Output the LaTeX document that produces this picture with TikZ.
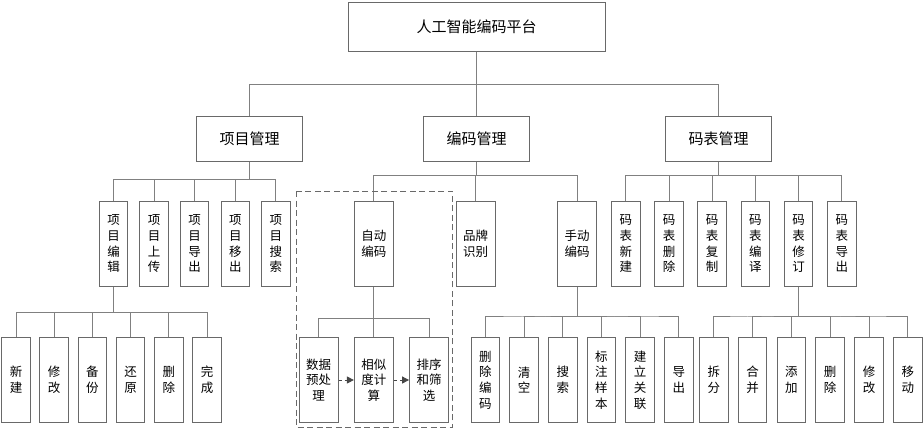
\documentclass[tikz,border=0pt]{standalone}
\usepackage{fontspec}
\setmainfont{Noto Sans CJK SC}
\usetikzlibrary{calc,arrows.meta}
\definecolor{boxgray}{RGB}{105,105,105}
\definecolor{linegray}{RGB}{128,128,128}
\definecolor{tipgray}{RGB}{70,70,70}
\tikzset{
  elbow/.store in=\elbowpos, elbow=.5,
  tall/.style={draw=boxgray, line width=1pt, align=center, inner sep=0pt,
    minimum width=28.5pt, minimum height=84.5pt,
    font=\fontsize{12.5pt}{15.7pt}\selectfont},
  wide/.style={minimum width=39pt},
  rootbox/.style={tall, minimum width=257pt, minimum height=49pt,
    font=\fontsize{15pt}{18pt}\selectfont},
  groupbox/.style={tall, minimum width=106pt, minimum height=45pt,
    font=\fontsize{15pt}{18pt}\selectfont},
  projkids/.style={sibling distance=40.6pt, xshift=-54.8pt, elbow=.45},
  codekids/.style={sibling distance=101.6pt, xshift=-1pt},
  tablekids/.style={sibling distance=43.2pt, xshift=15.3pt},
  editkids/.style={sibling distance=38.2pt, xshift=-2pt, elbow=.51},
  autokids/.style={sibling distance=55.2pt, elbow=.63},
  manualkids/.style={sibling distance=38.66pt, xshift=5pt},
  revisekids/.style={sibling distance=38.8pt, xshift=12.2pt},
  flow/.style={draw=tipgray, line width=.9pt, dash pattern=on 3.5pt off 2.5pt,
    -{Triangle[length=7pt,width=7pt]}},
  autoframe/.style={draw=boxgray, line width=.9pt, dash pattern=on 6pt off 3.5pt}
}
\begin{document}
\begin{tikzpicture}[x=1pt, y=1pt, every node/.style={tall},
  edge from parent/.style={draw=linegray, line width=1pt},
  edge from parent path={(\tikzparentnode.south) |- ($(\tikzparentnode.south)!\elbowpos!(\tikzchildnode.north)$) -| (\tikzchildnode.north)},
  level 1/.style={level distance=112pt, sibling distance=234.5pt, elbow=.52},
  level 2/.style={level distance=105.35pt, elbow=.36},
  level 3/.style={level distance=136.15pt, sibling distance=38.7pt, elbow=.6}]
  \useasboundingbox (0,0) rectangle (923,-429);
  \node[rootbox] (root) at (476.5,-26.5) {人工智能编码平台}
    child[xshift=7.5pt] {node[groupbox] (proj) {项目管理}
      child[projkids] {node (pedit) {项\\目\\编\\辑}
        child[editkids] {node (pnew) {新\\建}}
        child[editkids] {node (pmod) {修\\改}}
        child[editkids] {node (pback) {备\\份}}
        child[editkids] {node (prest) {还\\原}}
        child[editkids] {node (pdel) {删\\除}}
        child[editkids] {node (pdone) {完\\成}}
      }
      child[projkids] {node (pup) {项\\目\\上\\传}}
      child[projkids] {node (pexp) {项\\目\\导\\出}}
      child[projkids] {node (prem) {项\\目\\移\\出}}
      child[projkids] {node (psea) {项\\目\\搜\\索}}
    }
    child {node[groupbox] (code) {编码管理}
      child[codekids] {node[wide] (auto) {自动\\编码}
        child[autokids] {node[wide] (pre) {数据\\预处\\理}}
        child[autokids] {node[wide] (sim) {相似\\度计\\算}}
        child[autokids] {node[wide] (sel) {排序\\和筛\\选}}
      }
      child[codekids] {node[wide] (brand) {品牌\\识别}}
      child[codekids] {node[wide] (manual) {手动\\编码}
        child[manualkids] {node (mdel) {删\\除\\编\\码}}
        child[manualkids] {node (mclr) {清\\空}}
        child[manualkids] {node (msea) {搜\\索}}
        child[manualkids] {node (mtag) {标\\注\\样\\本}}
        child[manualkids] {node (mlink) {建\\立\\关\\联}}
        child[manualkids] {node (mexp) {导\\出}}
      }
    }
    child[xshift=7.5pt] {node[groupbox] (table) {码表管理}
      child[tablekids] {node (tnew) {码\\表\\新\\建}}
      child[tablekids] {node (tdel) {码\\表\\删\\除}}
      child[tablekids] {node (tcopy) {码\\表\\复\\制}}
      child[tablekids] {node (tcomp) {码\\表\\编\\译}}
      child[tablekids] {node (trev) {码\\表\\修\\订}
        child[revisekids] {node (rsplit) {拆\\分}}
        child[revisekids] {node (rmerge) {合\\并}}
        child[revisekids] {node (radd) {添\\加}}
        child[revisekids] {node (rdel) {删\\除}}
        child[revisekids] {node (rmod) {修\\改}}
        child[revisekids] {node (rmove) {移\\动}}
      }
      child[tablekids] {node (texp) {码\\表\\导\\出}}
    };
  \draw[autoframe] ($(pre.west |- auto.north)+(-2.5,10)$) rectangle ($(sel.south east)+(3.3,-4.4)$);
  \draw[flow] (pre) -- (sim);
  \draw[flow] (sim) -- (sel);
\end{tikzpicture}
\end{document}
